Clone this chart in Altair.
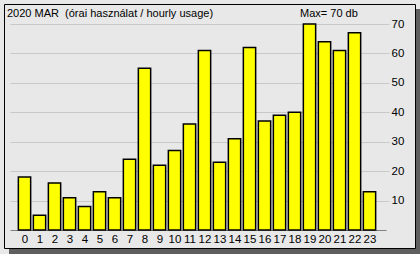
import altair as alt
import pandas as pd

# ---- data ----
hours = list(range(24))
usage = [18, 5, 16, 11, 8, 13, 11, 24, 55, 22, 27, 36, 61, 23, 31, 62,
         37, 39, 40, 70, 64, 61, 67, 13]
y_ticks = [10, 20, 30, 40, 50, 60, 70]
title_text = "2020 MAR\u00a0 (órai használat / hourly usage)"
max_text = f"Max= {max(usage)} db"

FONT = "Liberation Sans"
BG = "#e8e8e8"

df = pd.DataFrame({"hour": hours, "usage": usage})

W, H = 376, 206
xscale = alt.Scale(domain=[-0.967, 24.1], nice=False, zero=False)
yscale = alt.Scale(domain=[0, 70], nice=False)

bars = alt.Chart(df).transform_calculate(
    x0="datum.hour - 0.41", x1="datum.hour + 0.41"
).mark_bar(color="#ffff00", stroke="#000000", strokeWidth=1.5).encode(
    x=alt.X("x0:Q", scale=xscale,
            axis=alt.Axis(values=hours, title=None, grid=False, tickSize=0,
                          labelPadding=3, labelFontSize=11.5, labelFont=FONT,
                          labelColor="#000000", domainColor="#808080",
                          domainWidth=1, labelFlush=False, labelOverlap=False,
                          format="d")),
    x2="x1:Q",
    y=alt.Y("usage:Q", scale=yscale,
            axis=alt.Axis(orient="right", values=y_ticks, title=None,
                          grid=True, gridColor="#c8c8c8", gridWidth=1,
                          tickColor="#c8c8c8", tickSize=3, domain=False,
                          labelPadding=2, labelFontSize=11.5, labelFont=FONT,
                          labelColor="#000000")),
    y2=alt.datum(0),
)

one = pd.DataFrame({"a": [0]})

shadow_right = alt.Chart(one).mark_rect(color="#5f5f5f").encode(
    x=alt.value(405.5), x2=alt.value(410), y=alt.value(-15), y2=alt.value(230))
shadow_bottom = alt.Chart(one).mark_rect(color="#5f5f5f").encode(
    x=alt.value(-1), x2=alt.value(410), y=alt.value(224.5), y2=alt.value(230))
frame = alt.Chart(one).mark_rect(fillOpacity=0, stroke="#000000", strokeWidth=1).encode(
    x=alt.value(-5.5), x2=alt.value(405.5), y=alt.value(-19.5), y2=alt.value(224.5))

title = alt.Chart(pd.DataFrame({"t": [title_text]})).mark_text(
    align="left", baseline="middle", font=FONT, fontSize=11, color="#000000"
).encode(x=alt.value(-3), y=alt.value(-10), text="t:N")

maxlab = alt.Chart(pd.DataFrame({"t": [max_text]})).mark_text(
    align="left", baseline="middle", font=FONT, fontSize=11, color="#000000"
).encode(x=alt.value(290), y=alt.value(-10), text="t:N")

chart = alt.layer(shadow_right, shadow_bottom, frame, bars, title, maxlab).properties(
    width=W, height=H,
    autosize=alt.AutoSizeParams(type="none"),
    padding={"left": 10, "top": 24, "right": 34, "bottom": 24},
    background=BG,
).configure_view(strokeWidth=0)

chart.save("out.html", embed_options={"renderer": "svg", "actions": False})
